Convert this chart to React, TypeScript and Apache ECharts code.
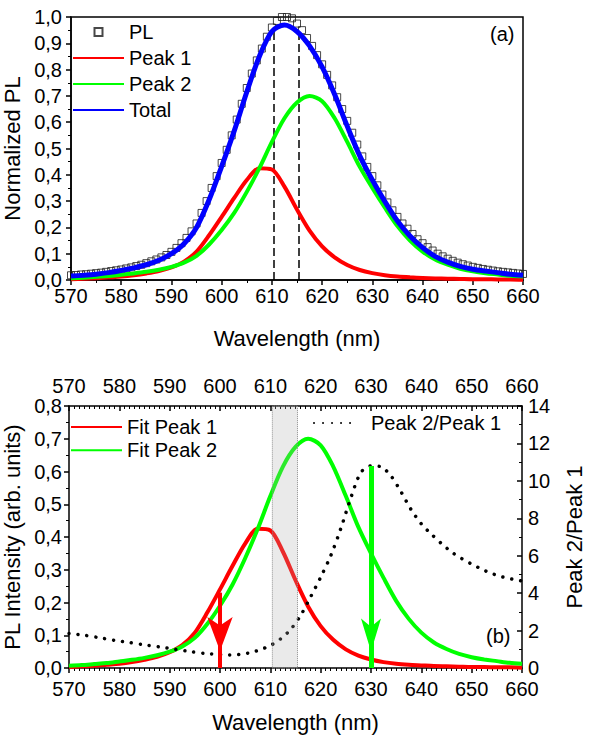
import React, { useEffect, useRef } from 'react';
import * as echarts from 'echarts';

// ---- fitted peaks (shared by both panels) ----
const fitWl = [570, 572.5, 575, 577.5, 580, 582.5, 585, 587.5, 590, 592.5, 595, 597.5, 600, 602.5, 605, 607.5, 610, 612.5, 615, 617.5, 620, 622.5, 625, 627.5, 630, 632.5, 635, 637.5, 640, 642.5, 645, 647.5, 650, 652.5, 655, 657.5, 660];
const peak1 = [0.003, 0.005, 0.007, 0.01, 0.013, 0.018, 0.025, 0.034, 0.048, 0.07, 0.108, 0.17, 0.24, 0.312, 0.38, 0.425, 0.42, 0.355, 0.268, 0.188, 0.128, 0.086, 0.057, 0.038, 0.026, 0.018, 0.013, 0.01, 0.008, 0.006, 0.005, 0.004, 0.003, 0.003, 0.002, 0.002, 0.001];
const peak2 = [0.007, 0.009, 0.012, 0.015, 0.02, 0.025, 0.031, 0.039, 0.05, 0.066, 0.092, 0.135, 0.19, 0.255, 0.335, 0.425, 0.525, 0.615, 0.675, 0.7, 0.68, 0.615, 0.525, 0.43, 0.35, 0.275, 0.205, 0.15, 0.108, 0.078, 0.058, 0.043, 0.033, 0.026, 0.021, 0.016, 0.013];
const total = [0.015, 0.018, 0.022, 0.028, 0.036, 0.046, 0.058, 0.075, 0.1, 0.138, 0.2, 0.305, 0.432, 0.567, 0.715, 0.85, 0.945, 0.97, 0.945, 0.89, 0.81, 0.705, 0.585, 0.472, 0.38, 0.298, 0.224, 0.167, 0.123, 0.09, 0.068, 0.052, 0.041, 0.034, 0.028, 0.022, 0.018];

// ---- measured PL (open squares) ----
const plWl = [570, 571, 572, 573, 574, 575, 576, 577, 578, 579, 580, 581, 582, 583, 584, 585, 586, 587, 588, 589, 590, 591, 592, 593, 594, 595, 596, 597, 598, 599, 600, 601, 602, 603, 604, 605, 606, 607, 608, 609, 610, 611, 612, 613, 614, 615, 616, 617, 618, 619, 620, 621, 622, 623, 624, 625, 626, 627, 628, 629, 630, 631, 632, 633, 634, 635, 636, 637, 638, 639, 640, 641, 642, 643, 644, 645, 646, 647, 648, 649, 650, 651, 652, 653, 654, 655, 656, 657, 658, 659, 660];
const plVal = [0.018, 0.019, 0.021, 0.022, 0.024, 0.026, 0.028, 0.031, 0.034, 0.037, 0.04, 0.044, 0.048, 0.053, 0.058, 0.064, 0.071, 0.078, 0.086, 0.095, 0.107, 0.122, 0.14, 0.16, 0.185, 0.215, 0.255, 0.3, 0.35, 0.395, 0.445, 0.495, 0.55, 0.61, 0.67, 0.73, 0.785, 0.835, 0.88, 0.925, 0.96, 0.985, 1.0, 1.0, 0.995, 0.975, 0.95, 0.92, 0.89, 0.855, 0.82, 0.78, 0.74, 0.695, 0.65, 0.605, 0.56, 0.515, 0.47, 0.43, 0.395, 0.36, 0.325, 0.295, 0.265, 0.24, 0.215, 0.195, 0.175, 0.155, 0.14, 0.125, 0.112, 0.1, 0.09, 0.081, 0.073, 0.066, 0.06, 0.055, 0.05, 0.046, 0.042, 0.039, 0.036, 0.033, 0.031, 0.029, 0.027, 0.025, 0.023];

// ---- Peak 2 / Peak 1 ratio (right axis of panel b) ----
const ratioWl = [570, 573, 576, 579, 582, 585, 588, 591, 594, 597, 600, 602, 604, 606, 608, 610, 612, 614, 616, 618, 620, 622, 624, 626, 628, 630, 632, 634, 636, 638, 640, 642, 644, 646, 648, 650, 652, 654, 656, 658, 660];
const ratioVal = [1.85, 1.75, 1.62, 1.48, 1.36, 1.24, 1.13, 1.0, 0.88, 0.78, 0.72, 0.7, 0.73, 0.82, 0.98, 1.2, 1.55, 2.05, 2.8, 3.8, 4.85, 6.0, 7.45, 9.1, 10.45, 10.8, 10.75, 10.25, 9.4, 8.45, 7.7, 7.15, 6.65, 6.2, 5.85, 5.55, 5.28, 5.05, 4.88, 4.75, 4.65];

// ---- markers ----
const markedWl = [610.4, 615.4];
const arrowWl = [600, 630];
const arrowTop = [0.23, 10.8];

const FONT = '"Liberation Sans", Arial, sans-serif';
const RED = '#ff0000';
const GREEN = '#00ff00';
const BLUE = '#0000ff';

const pairs = (xs: number[], ys: number[]) => xs.map((x, i) => [x, ys[i]]);
const comma = (v: number) => v.toFixed(1).replace('.', ',');

const axisLine = { show: true, onZero: false, lineStyle: { color: '#000', width: 1.5 } };
const labelStyle = { color: '#000', fontSize: 20, fontFamily: FONT };
const nameStyle = { color: '#000', fontSize: 22, fontFamily: FONT };
const tick = (inside: boolean) => ({ show: true, inside, length: 5, lineStyle: { color: '#000', width: 1.5 } });
const minor = (n: number) => ({ show: true, splitNumber: n, length: 3, lineStyle: { color: '#000', width: 1 } });
const legendText = { fontSize: 20, color: '#000', fontFamily: FONT };
const lineItem = (name: string) => ({ name, itemStyle: { opacity: 0 } });

export default function App() {
  const ref = useRef<HTMLDivElement>(null);
  useEffect(() => {
    const chart = echarts.init(ref.current as HTMLDivElement, null, { renderer: 'svg' });
    const option: any = {
      animation: false,
      backgroundColor: '#fff',
      grid: [
        { left: 71, top: 17, width: 452, height: 263, show: true, borderColor: '#000', borderWidth: 1.5, outerBoundsMode: 'none' },
        { left: 69, top: 406, width: 453, height: 262, outerBoundsMode: 'none' },
      ],
      xAxis: [
        {
          gridIndex: 0, type: 'value', min: 570, max: 660, interval: 10,
          axisLine, axisTick: tick(false), minorTick: minor(2), splitLine: { show: false },
          axisLabel: { ...labelStyle, margin: 6 },
          name: 'Wavelength (nm)', nameLocation: 'middle', nameGap: 47, nameTextStyle: nameStyle,
        },
        {
          gridIndex: 1, type: 'value', position: 'bottom', min: 570, max: 660, interval: 10,
          axisLine, axisTick: tick(false), minorTick: minor(10), splitLine: { show: false },
          axisLabel: { ...labelStyle, margin: 11 },
          name: 'Wavelength (nm)', nameLocation: 'middle', nameGap: 43, nameTextStyle: nameStyle,
        },
        {
          gridIndex: 1, type: 'value', position: 'top', min: 570, max: 660, interval: 10,
          axisLine, axisTick: tick(true), minorTick: minor(10), splitLine: { show: false },
          axisLabel: { ...labelStyle, margin: 10 },
        },
      ],
      yAxis: [
        {
          gridIndex: 0, type: 'value', min: 0, max: 1, interval: 0.1,
          axisLine, axisTick: tick(false), minorTick: minor(2), splitLine: { show: false },
          axisLabel: { ...labelStyle, margin: 9, formatter: comma },
          name: 'Normalized PL', nameLocation: 'middle', nameGap: 40, nameTextStyle: nameStyle,
        },
        {
          gridIndex: 1, type: 'value', position: 'left', min: 0, max: 0.8, interval: 0.1,
          axisLine, axisTick: tick(false), minorTick: minor(2), splitLine: { show: false },
          axisLabel: { ...labelStyle, margin: 7, formatter: comma },
          name: 'PL Intensity (arb. units)', nameLocation: 'middle', nameGap: 43, nameTextStyle: nameStyle,
        },
        {
          gridIndex: 1, type: 'value', position: 'right', min: 0, max: 14, interval: 2,
          axisLine, axisTick: tick(true), minorTick: minor(2), splitLine: { show: false },
          axisLabel: { ...labelStyle, margin: 6 },
          name: 'Peak 2/Peak 1', nameLocation: 'middle', nameGap: 41, nameTextStyle: nameStyle,
        },
      ],
      legend: [
        {
          data: ['PL'],
          orient: 'vertical', left: 93.5, top: 22, padding: 0,
          itemWidth: 8, itemHeight: 8, selectedMode: false,
          textStyle: { ...legendText, padding: [0, 0, 0, 21.5] },
        },
        {
          data: [lineItem('Peak 1'), lineItem('Peak 2'), lineItem('Total')],
          orient: 'vertical', left: 72, top: 48, padding: 0,
          itemWidth: 51, itemHeight: 8, itemGap: 6, selectedMode: false,
          textStyle: legendText,
        },
        {
          data: [lineItem('Fit Peak 1'), lineItem('Fit Peak 2')],
          orient: 'vertical', left: 70, top: 417, padding: 0,
          itemWidth: 51, itemHeight: 8, itemGap: 3.3, selectedMode: false,
          textStyle: legendText,
        },
        {
          data: [lineItem('Peak 2/Peak 1')],
          orient: 'vertical', left: 313, top: 413, padding: 0,
          itemWidth: 45, itemHeight: 8, selectedMode: false,
          textStyle: { ...legendText, padding: [0, 0, 0, 7] },
        },
      ],
      graphic: [
        { type: 'text', left: 490, top: 24, style: { text: '(a)', fontSize: 20, fontFamily: FONT, fill: '#000' } },
        { type: 'text', left: 486, top: 626, style: { text: '(b)', fontSize: 20, fontFamily: FONT, fill: '#000' } },
      ],
      series: [
        {
          name: 'PL', type: 'scatter', xAxisIndex: 0, yAxisIndex: 0, data: pairs(plWl, plVal),
          symbol: 'rect', symbolSize: 7,
          itemStyle: { color: 'rgba(255,255,255,0)', borderColor: '#1a1a1a', borderWidth: 1 },
          markLine: {
            silent: true, z: 1, symbol: ['none', 'none'], label: { show: false },
            lineStyle: { color: '#000', width: 1.5, type: [8, 4] },
            data: markedWl.map((x) => [{ coord: [x, 0] }, { coord: [x, 0.96] }]),
          },
        },
        {
          name: 'Peak 1', type: 'line', xAxisIndex: 0, yAxisIndex: 0, data: pairs(fitWl, peak1),
          smooth: 0.3, symbol: 'none', lineStyle: { color: RED, width: 4 }, itemStyle: { color: RED },
        },
        {
          name: 'Peak 2', type: 'line', xAxisIndex: 0, yAxisIndex: 0, data: pairs(fitWl, peak2),
          smooth: 0.3, symbol: 'none', lineStyle: { color: GREEN, width: 4 }, itemStyle: { color: GREEN },
        },
        {
          name: 'Total', type: 'line', xAxisIndex: 0, yAxisIndex: 0, data: pairs(fitWl, total),
          smooth: 0.3, symbol: 'none', lineStyle: { color: BLUE, width: 5 }, itemStyle: { color: BLUE },
        },
        {
          name: 'Fit Peak 1', type: 'line', xAxisIndex: 1, yAxisIndex: 1, data: pairs(fitWl, peak1),
          smooth: 0.3, symbol: 'none', lineStyle: { color: RED, width: 4 }, itemStyle: { color: RED },
          markLine: {
            silent: true, z: 6, symbol: ['none', 'arrow'], label: { show: false },
            lineStyle: { color: RED, width: 4, type: 'solid' },
            data: [[
              { coord: [arrowWl[0], arrowTop[0]] },
              { coord: [arrowWl[0], 0], symbolSize: [19, 34], symbolOffset: [0, 17] },
            ]],
          },
        },
        {
          name: 'Fit Peak 2', type: 'line', xAxisIndex: 1, yAxisIndex: 1, data: pairs(fitWl, peak2),
          smooth: 0.3, symbol: 'none', lineStyle: { color: GREEN, width: 4 }, itemStyle: { color: GREEN },
        },
        {
          name: 'Peak 2/Peak 1', type: 'line', xAxisIndex: 1, yAxisIndex: 2, data: pairs(ratioWl, ratioVal),
          smooth: 0.3, symbol: 'none',
          lineStyle: { color: '#000', width: 3.5, type: [0.01, 9], cap: 'round' }, itemStyle: { color: '#000' },
          markLine: {
            silent: true, z: 6, symbol: ['none', 'arrow'], label: { show: false },
            lineStyle: { color: GREEN, width: 5, type: 'solid' },
            data: [[
              { coord: [arrowWl[1], arrowTop[1]] },
              { coord: [arrowWl[1], 0], symbolSize: [15, 33], symbolOffset: [0, 16.5] },
            ]],
          },
          markArea: {
            silent: true, z: 10, label: { show: false },
            itemStyle: { color: 'rgba(170,170,170,0.25)', borderColor: '#8c8c8c', borderWidth: 1, borderType: 'dotted' },
            data: [[{ xAxis: markedWl[0] }, { xAxis: markedWl[1] }]],
          },
        },
      ],
    };
    chart.setOption(option);
    return () => chart.dispose();
  }, []);
  return (
    <div
      ref={ref}
      style={{ position: 'fixed', left: 0, top: 0, width: 589, height: 737, background: '#fff' }}
    />
  );
}
